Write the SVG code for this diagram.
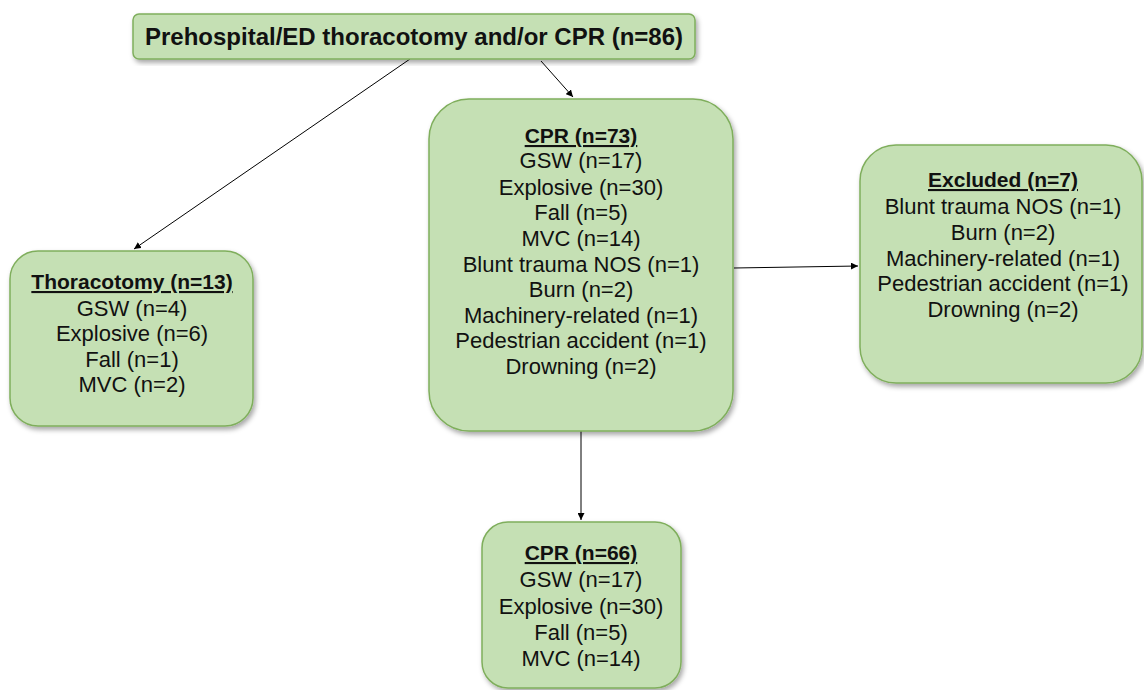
<svg xmlns="http://www.w3.org/2000/svg" width="1144" height="690" viewBox="0 0 1144 690">
<defs>
<filter id="sh" x="-10%" y="-10%" width="125%" height="125%">
<feDropShadow dx="2" dy="3" stdDeviation="2.5" flood-color="#000" flood-opacity="0.35"/>
</filter>
<marker id="ah" viewBox="0 0 10 10" refX="10" refY="5" markerWidth="7" markerHeight="7" orient="auto" markerUnits="userSpaceOnUse">
<path d="M0,0 L10,5 L0,10 z" fill="#000"/>
</marker>
<style>
.box{fill:#c5e0b4;stroke:#7fae5c;stroke-width:1.5;filter:url(#sh)}
.t{font-family:"Liberation Sans",Arial,sans-serif;font-size:22px;fill:#111;text-anchor:middle}
.h{font-weight:bold;text-decoration:underline;font-size:21px}
.c{stroke:#000;stroke-width:1;fill:none;marker-end:url(#ah)}
</style>
</defs>
<rect width="1144" height="690" fill="#fff"/>
<g id="connectors">
<line class="c" x1="410" y1="59" x2="134" y2="249"/>
<line class="c" x1="541" y1="61" x2="573" y2="97"/>
<line class="c" x1="734" y1="268" x2="858" y2="266"/>
<line class="c" x1="581" y1="431" x2="581" y2="520"/>
</g>
<g id="top">
<rect class="box" x="133" y="14" width="562" height="45" rx="6"/>
<text class="t" x="414" y="45" style="font-weight:bold;font-size:24px">Prehospital/ED thoracotomy and/or CPR (n=86)</text>
</g>
<g id="thoracotomy">
<rect class="box" x="10" y="251" width="243" height="175" rx="28"/>
<text class="t h" x="132" y="289">Thoracotomy (n=13)</text>
<text class="t" x="132" y="316">GSW (n=4)</text>
<text class="t" x="132" y="341">Explosive (n=6)</text>
<text class="t" x="132" y="367">Fall (n=1)</text>
<text class="t" x="132" y="392">MVC (n=2)</text>
</g>
<g id="cpr73">
<rect class="box" x="429" y="99" width="304" height="332" rx="40"/>
<text class="t h" x="581" y="143">CPR (n=73)</text>
<text class="t" x="581" y="168">GSW (n=17)</text>
<text class="t" x="581" y="195">Explosive (n=30)</text>
<text class="t" x="581" y="220">Fall (n=5)</text>
<text class="t" x="581" y="246">MVC (n=14)</text>
<text class="t" x="581" y="272">Blunt trauma NOS (n=1)</text>
<text class="t" x="581" y="297">Burn (n=2)</text>
<text class="t" x="581" y="323">Machinery-related (n=1)</text>
<text class="t" x="581" y="348">Pedestrian accident (n=1)</text>
<text class="t" x="581" y="374">Drowning (n=2)</text>
</g>
<g id="excluded">
<rect class="box" x="860" y="145" width="282" height="238" rx="36"/>
<text class="t h" x="1003" y="187">Excluded (n=7)</text>
<text class="t" x="1003" y="214">Blunt trauma NOS (n=1)</text>
<text class="t" x="1003" y="240">Burn (n=2)</text>
<text class="t" x="1003" y="266">Machinery-related (n=1)</text>
<text class="t" x="1003" y="291">Pedestrian accident (n=1)</text>
<text class="t" x="1003" y="317">Drowning (n=2)</text>
</g>
<g id="cpr66">
<rect class="box" x="482" y="522" width="199" height="166" rx="26"/>
<text class="t h" x="581" y="560">CPR (n=66)</text>
<text class="t" x="581" y="587">GSW (n=17)</text>
<text class="t" x="581" y="614">Explosive (n=30)</text>
<text class="t" x="581" y="640">Fall (n=5)</text>
<text class="t" x="581" y="666">MVC (n=14)</text>
</g>
</svg>
